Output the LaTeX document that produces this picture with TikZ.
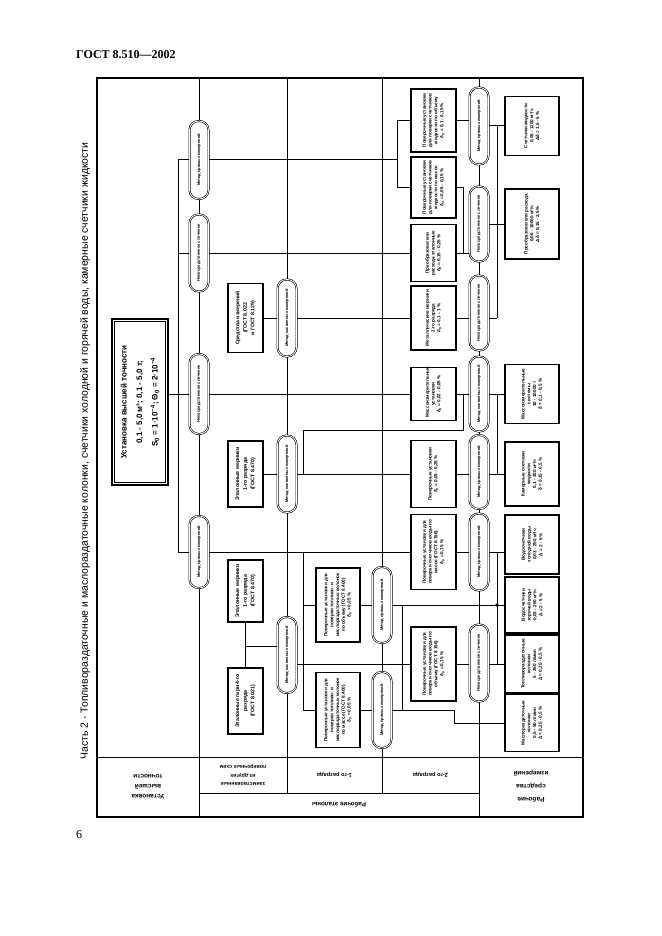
\documentclass[tikz,border=0pt]{standalone}
\usepackage{fontspec}
\setmainfont{Liberation Sans}
\newfontfamily\seriffont{Liberation Serif}
\usepackage{graphicx}
\usetikzlibrary{calc}
\pgfdeclarelayer{bg}
\pgfsetlayers{bg,main}
\newcommand{\rbox}[2]{\rotatebox{90}{\parbox{#1}{\centering #2}}}
\newcommand{\fsz}[2]{\fontsize{#1}{#2}\selectfont}
\newcommand{\dz}{δ\textsubscript{0}}
\begin{document}
\begin{tikzpicture}[x=1pt,y=-1pt,
  bx/.style={draw, line width=1.3pt, fill=white, inner sep=0pt, font=\fsz{4.6}{5.8}\bfseries},
  bxl/.style={bx, font=\fsz{5.2}{7.6}\bfseries},
  ov/.style={draw, double, double distance=0.8pt, line width=0.6pt, rounded corners=9pt, fill=white, minimum width=19pt, inner sep=0pt, font=\fsz{4}{4.5}\bfseries},
  cn/.style={line width=1pt},
  col/.style={line width=0.9pt},
  lab/.style={rotate=180, align=center, font=\fsz{6.5}{10}\bfseries}
]
\begin{pgfonlayer}{bg}
\fill[white] (0,0) rectangle (661,936);
\end{pgfonlayer}
\useasboundingbox (0,0) rectangle (661,936);

% header, page number, title
\node[anchor=base west, font=\seriffont\bfseries\fsz{12}{14}, inner sep=0] (hdr) at (76,59) {ГОСТ 8.510—2002};
\node[anchor=base west, font=\seriffont\fsz{12}{14}, inner sep=0] (pg) at (76,838) {6};
\node[inner sep=0] (title) at (85,451) {\rotatebox{90}{\resizebox{617pt}{!}{\fsz{10}{12}Часть 2 - Топливораздаточные и маслораздаточные колонки, счетчики холодной и горячей воды, камерные счетчики жидкости}}};

% top-level standard
\node[draw, line width=1.6pt, fill=white, minimum width=56, minimum height=166, inner sep=0, font=\fsz{8}{15.5}\bfseries] (U) at (140,402)
 {\rbox{160pt}{Установка высшей точности\\ 0,1 - 5,0 м³; 0,1 - 5,0 т;\\ S\textsubscript{0} = 1·10\textsuperscript{−4}; Θ\textsubscript{0} = 2·10\textsuperscript{−4}}};
\draw[line width=0.7pt] ($(U.south west)+(3.5,-3.5)$) rectangle ($(U.north east)+(-3.5,3.5)$);

% ovals column x=199
\node[ov, minimum height=78] (o1a) at (199,160) {\rotatebox{90}{Метод прямых измерений}};
\node[ov, minimum height=77] (o1b) at (199,253) {\rotatebox{90}{Непосредственное сличение}};
\node[ov, minimum height=80] (o1c) at (199,394) {\rotatebox{90}{Непосредственное сличение}};
\node[ov, minimum height=72] (o1d) at (199,552) {\rotatebox{90}{Метод прямых измерений}};
% ovals column x=287
\node[ov, minimum height=77] (o2a) at (287,318) {\rotatebox{90}{Метод косвенных измерений}};
\node[ov, minimum height=77] (o2b) at (287,474) {\rotatebox{90}{Метод косвенных измерений}};
\node[ov, minimum height=76] (o2c) at (287,655) {\rotatebox{90}{Метод косвенных измерений}};
% ovals column x=382
\node[ov, minimum height=76] (o3a) at (382,605) {\rotatebox{90}{Метод прямых измерений}};
\node[ov, minimum height=76] (o3b) at (382,710) {\rotatebox{90}{Метод прямых измерений}};
% ovals column x=479
\node[ov, minimum height=77] (o4a) at (479,126) {\rotatebox{90}{Метод прямых измерений}};
\node[ov, minimum height=75] (o4b) at (479,224) {\rotatebox{90}{Непосредственное сличение}};
\node[ov, minimum height=75] (o4c) at (479,313) {\rotatebox{90}{Непосредственное сличение}};
\node[ov, minimum height=75] (o4d) at (479,394) {\rotatebox{90}{Метод косвенных измерений}};
\node[ov, minimum height=74] (o4e) at (479,472) {\rotatebox{90}{Метод прямых измерений}};
\node[ov, minimum height=77] (o4f) at (479,552) {\rotatebox{90}{Метод прямых измерений}};
\node[ov, minimum height=77] (o4g) at (479,663) {\rotatebox{90}{Непосредственное сличение}};

% borrowed standards x 228-263
\node[bxl, minimum width=35, minimum height=69] (ba) at (245.5,318) {\rbox{63pt}{Средства измерений\\ (ГОСТ 8.022\\ и ГОСТ 8.129)}};
\node[bxl, minimum width=35, minimum height=66] (bb) at (245.5,474) {\rbox{60pt}{Эталонные мерники\\ 1-го разряда\\ (ГОСТ 8.470)}};
\node[bxl, minimum width=35, minimum height=62] (bc) at (245.5,591) {\rbox{56pt}{Эталонные мерники\\ 1-го разряда\\ (ГОСТ 8.470)}};
\node[bxl, minimum width=35, minimum height=66] (bd) at (245.5,701) {\rbox{60pt}{Эталонные гири 4-го\\ разряда\\ (ГОСТ 8.021)}};

% 1st rank x 316-360
\node[bx, minimum width=44, minimum height=74] (bI) at (338,605) {\rbox{68pt}{Поверочные установки для поверки топливо- и маслораздаточных колонок по объему (ГОСТ 8.400)\\ \dz{} = 0,05 \%}};
\node[bx, minimum width=44, minimum height=75] (bJ) at (338,710) {\rbox{69pt}{Поверочные установки для поверки топливо- и маслораздаточных колонок по массе (ГОСТ 8.400)\\ \dz{} = 0,05 \%}};

% 2nd rank x 411-456
\node[bx, minimum width=45, minimum height=63] (b1) at (433.5,120.5) {\rbox{57pt}{Поверочные установки для поверки счетчиков жидкости по объему\\ \dz{} = 0,1 - 0,15 \%}};
\node[bx, minimum width=45, minimum height=61] (b2) at (433.5,187.5) {\rbox{55pt}{Поверочные установки для поверки счетчиков жидкости по массе\\ \dz{} = 0,05 - 0,15 \%}};
\node[bx, minimum width=45, minimum height=57] (b3) at (433.5,253) {\rbox{51pt}{Преобразователи расхода эталонные\\ \dz{} = 0,15 - 0,25 \%}};
\node[bx, minimum width=45, minimum height=64] (bB) at (433.5,318) {\rbox{58pt}{Металлические мерники\\ 2-го разряда\\ \dz{} = 0,1 - 1 \%}};
\node[bx, minimum width=45, minimum height=53] (bC) at (433.5,394) {\rbox{47pt}{Массоизмерительные установки\\ \dz{} = 0,02 - 0,05 \%}};
\node[bx, minimum width=45, minimum height=67] (bD) at (433.5,474) {\rbox{61pt}{Поверочные установки\\ \dz{} = 0,05 - 0,25 \%}};
\node[bx, minimum width=45, minimum height=75] (bG) at (433.5,552) {\rbox{69pt}{Поверочные установки для поверки счетчиков воды по массе (ГОСТ 8.156)\\ \dz{} = 0,15 \%}};
\node[bx, minimum width=45, minimum height=74] (bH) at (433.5,664) {\rbox{68pt}{Поверочные установки для поверки счетчиков воды по объему (ГОСТ 8.156)\\ \dz{} = 0,15 \%}};

% working instruments x 505-559
\node[bx, minimum width=54, minimum height=59] (w1) at (532,126) {\rbox{53pt}{Счетчики жидкости\\ 0,05 - 1200 м³/ч\\ Δδ = 1,5 - 5 \%}};
\node[bx, minimum width=54, minimum height=70] (w2) at (532,224) {\rbox{64pt}{Преобразователи расхода\\ 0,06 - 10000 м³/ч\\ Δδ = 0,15 - 2,5 \%}};
\node[bx, minimum width=54, minimum height=59] (wE) at (532,394) {\rbox{53pt}{Массоизмерительные\\ системы\\ 10 - 10000 т\\ δ = 0,1 - 0,5 \%}};
\node[bx, minimum width=54, minimum height=64] (wF) at (532,474) {\rbox{58pt}{Камерные счетчики\\ жидкости\\ 0,1 - 300 м³/ч\\ δ = 0,15 - 0,5 \%}};
\node[bx, minimum width=54, minimum height=59] (wK) at (532,544.5) {\rbox{53pt}{Водосчетчики холодной воды\\ 0,03 - 250 м³/ч\\ Δ = 2 - 5 \%}};
\node[bx, minimum width=54, minimum height=56] (wL) at (532,605) {\rbox{50pt}{Водосчетчики горячей воды\\ 0,03 - 250 м³/ч\\ Δ = 2 - 5 \%}};
\node[bx, minimum width=54, minimum height=58] (wM) at (532,664) {\rbox{52pt}{Топливораздаточные колонки\\ 5 - 250 л/мин\\ Δ = 0,25 - 0,5 \%}};
\node[bx, minimum width=54, minimum height=57] (wN) at (532,723) {\rbox{51pt}{Маслораздаточные колонки\\ 0,5 - 50 л/мин\\ Δ = 0,25 - 0,5 \%}};

% level labels (upside down)
\node[lab] (L0) at (148,787) {Установка\\высшей\\точности};
\node[lab, font=\fsz{5.3}{8.5}\bfseries] (L1) at (243,775) {заимствованные\\из других\\поверочных схем};
\node[lab, font=\fsz{5.6}{7}\bfseries] (L2) at (334.5,775) {1-го разряда};
\node[lab, font=\fsz{5.6}{7}\bfseries] (L3) at (430.5,775) {2-го разряда};
\node[lab, font=\fsz{6.2}{8}\bfseries] (L4) at (339,805) {Рабочие эталоны};
\node[lab, font=\fsz{6.5}{13}\bfseries] (L5) at (531,786) {Рабочие\\средства\\измерений};

% junction coordinates
\coordinate (j1) at (178,160);
\coordinate (j2) at (178,253);
\coordinate (j4) at (178,552);
\coordinate (k1) at (397,160);
\coordinate (q1) at (303,552);
\coordinate (q2) at (303,474);
\coordinate (q2a) at (463,430);
\coordinate (q3) at (463,394);
\coordinate (m1) at (245.5,646);
\coordinate (n1) at (454,710);
\coordinate (s1) at (402,605);
\coordinate (s2) at (402,710);
\coordinate (t1) at (463,253);
\coordinate (r1) at (497,126);
\coordinate (r3) at (497,318);
\coordinate (r4) at (497,394);
\coordinate (r5) at (497,474);
\coordinate (r6) at (497,552);
\coordinate (r7) at (497,664);
\coordinate (dot) at (497,605);

\begin{pgfonlayer}{bg}
% frame and grid
\draw[line width=1.6pt] (97,78) rectangle (583,817);
\draw[col] (199,78) -- (199,817);
\draw[col] (287,78) -- (287,793);
\draw[col] (382,78) -- (382,793);
\draw[col] (479,78) -- (479,817);
\draw[col] (97,757) -- (583,757);
\draw[col] (199,793) -- (479,793);

% connectors from the top standard
\draw[cn] (j1) -- (j4);
\draw[cn] (j1) -- (o1a.west);
\draw[cn] (j2) -- (o1b.west);
\draw[cn] (o1c.west -| U.east) -- (o1c.west);
\draw[cn] (j4) -- (o1d.west);
\draw[cn] (o1a.east) -- (k1);
\draw[cn] (b1.west) -| (k1);
\draw[cn] (b2.west) -| (k1);
\draw[cn] (o1b.east) -- (b3.west);
\draw[cn] (o1c.east) -- (bC.west);
\draw[cn] (o1d.east) -- (bG.west);
\draw[cn] (q1) |- (bI.west);
\draw[cn] (q1) |- (bJ.west);

% borrowed standards
\draw[cn] (ba.east) -- (o2a.west);
\draw[cn] (o2a.east) -- (bB.west);
\draw[cn] (bb.east) -- (o2b.west);
\draw[cn] (o2b.east) -- (bD.west);
\draw[cn] (q2) |- (q2a) -- (q3);
\draw[cn] (bc.south) -- (bd.north);
\draw[cn] (m1) -- (m1 -| o2c.west);
\draw[cn] (bH.west -| o2c.east) -- (bH.west);

% 1st rank
\draw[cn] (bI.east) -- (o3a.west);
\draw[cn] (o3a.east) -- (wL.west);
\draw[cn] (bJ.east) -- (o3b.west);
\draw[cn] (o3b.east) -- (n1) |- (wN.west);
\draw[cn] (s1) -- (s2);

% 2nd rank
\draw[cn] (b1.east) -- (b1.east -| o4a.west);
\draw[cn] (b2.east) -| (t1);
\draw[cn] (b3.east) -- (o4b.west |- b3.east);
\draw[cn] (bB.east) -- (o4c.west |- bB.east);
\draw[cn] (bC.east) -- (o4d.west);
\draw[cn] (bD.east) -- (o4e.west |- bD.east);
\draw[cn] (bG.east) -- (o4f.west);
\draw[cn] (bH.east) -- (o4g.west |- bH.east);

% working instruments
\draw[cn] (o4a.east) -- (w1.west);
\draw[cn] (o4b.east) -- (w2.west);
\draw[cn] (r1) -- (r3);
\draw[cn] (o4c.east |- r3) -- (r3);
\draw[cn] (o4d.east) -- (wE.west);
\draw[cn] (o4e.east |- wF.west) -- (wF.west);
\draw[cn] (r4) -- (r5);
\draw[cn] (o4f.east) -- (wK.west |- o4f.east);
\draw[cn] (r6) -- (r7);
\draw[cn] (o4g.east |- wM.west) -- (wM.west);
\fill (dot) circle (1.8);
\end{pgfonlayer}
\end{tikzpicture}
\end{document}
